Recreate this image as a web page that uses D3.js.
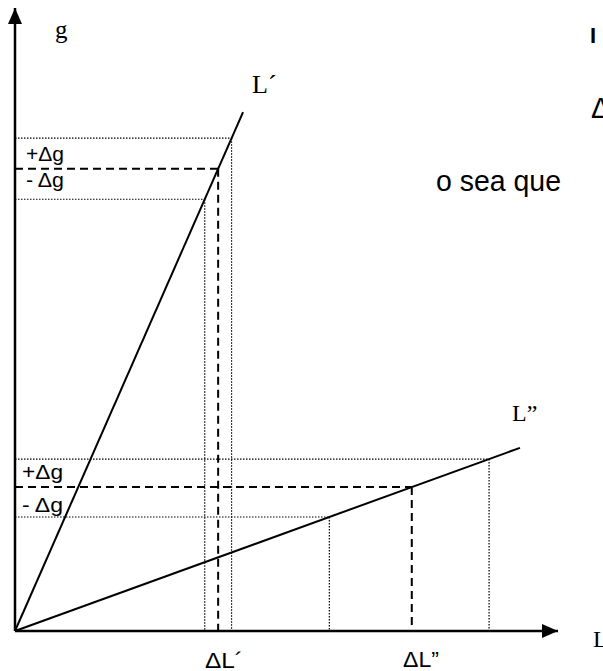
<!DOCTYPE html>
<html>
<head>
<meta charset="utf-8">
<script src="https://cdn.jsdelivr.net/npm/d3@7"></script>
<style>
html,body{margin:0;padding:0;background:#fff;overflow:hidden;}
svg{display:block;}
</style>
</head>
<body>
<svg id="chart" width="603" height="671"></svg>
<script>
// ---- data ----
const lineNames = ["L´", "L”"];
const lineEndX = [42.0, 93.0];
const lineEndY = [83.3, 29.4];
const levelsTop = [79.1, 74.2, 69.3];     // g'+Δg, g', g'-Δg
const levelsBottom = [27.6, 23.1, 18.3];  // g''+Δg, g'', g''-Δg
const deltaLabels = ["+Δg", "- Δg"];
const xTickLabels = ["ΔL´", "ΔL”"];
const axisLabels = ["g", "L"];
const sideTexts = ["o sea que", "I", "Δ"];

const svg = d3.select("#chart");
const x = d3.scaleLinear().domain([0, 100]).range([15, 558]);
const y = d3.scaleLinear().domain([0, 100]).range([631, 8]);

// arrow markers
const defs = svg.append("defs");
defs.append("marker").attr("id", "arr").attr("viewBox", "0 0 16 14")
  .attr("refX", 16).attr("refY", 7).attr("markerWidth", 16).attr("markerHeight", 14)
  .attr("markerUnits", "userSpaceOnUse").attr("orient", "auto")
  .append("path").attr("d", "M0,0 L16,7 L0,14 Z").attr("fill", "#000");

// helper: intersection of level with line i
function xAt(i, g) { return g * lineEndX[i] / lineEndY[i]; }

const levelSets = [levelsTop, levelsBottom];

// dotted & dashed guides
levelSets.forEach((lv, i) => {
  lv.forEach((g, k) => {
    const xi = xAt(i, g);
    const dash = k === 1 ? "8,5" : "1.5,1.5";
    const sw = k === 1 ? 2 : 1.2;
    svg.append("line")
      .attr("x1", x(0)).attr("y1", y(g)).attr("x2", x(xi)).attr("y2", y(g))
      .attr("stroke", "#000").attr("stroke-width", sw).attr("stroke-dasharray", dash);
    svg.append("line")
      .attr("x1", x(xi)).attr("y1", y(g)).attr("x2", x(xi)).attr("y2", y(0))
      .attr("stroke", "#000").attr("stroke-width", sw).attr("stroke-dasharray", dash);
  });
});

// lines L' and L''
lineNames.forEach((n, i) => {
  svg.append("line")
    .attr("x1", x(0)).attr("y1", y(0)).attr("x2", x(lineEndX[i])).attr("y2", y(lineEndY[i]))
    .attr("stroke", "#000").attr("stroke-width", 2);
});

// axes
svg.append("line").attr("x1", x(0)).attr("y1", y(0)).attr("x2", x(0)).attr("y2", y(100))
  .attr("stroke", "#000").attr("stroke-width", 2.5).attr("marker-end", "url(#arr)");
svg.append("line").attr("x1", x(0)).attr("y1", y(0)).attr("x2", x(100)).attr("y2", y(0))
  .attr("stroke", "#000").attr("stroke-width", 2.5).attr("marker-end", "url(#arr)");

const serif = "'Liberation Serif','Times New Roman',serif";
const sans = "'Liberation Sans',Arial,sans-serif";

function txt(s, px, py, font, size, len) {
  const t = svg.append("text").attr("x", px).attr("y", py)
    .attr("font-family", font).attr("font-size", size).attr("fill", "#000").text(s);
  if (len) t.attr("textLength", len).attr("lengthAdjust", "spacingAndGlyphs");
  return t;
}

// axis labels
txt(axisLabels[0], 55, 38, serif, 25);
txt(axisLabels[1], 593, 647, serif, 24);
// line labels
txt(lineNames[0], 252, 93, serif, 26);
txt(lineNames[1], 512, 421, serif, 24);

// delta g labels
txt(deltaLabels[0], 26, 161, sans, 20, 38);
txt(deltaLabels[1], 26, 187, sans, 20, 38);
txt(deltaLabels[0], 22, 479, sans, 20, 41);
txt(deltaLabels[1], 22, 512, sans, 20, 41);

// x labels
txt(xTickLabels[0], 205, 668, sans, 22, 38);
txt(xTickLabels[1], 403, 667, sans, 22, 36);

// side texts
txt(sideTexts[0], 436, 191, sans, 29, 125);
txt(sideTexts[1], 590, 43, sans, 22).attr("font-weight", "bold");
txt(sideTexts[2], 591, 118, sans, 29);
</script>
</body>
</html>
